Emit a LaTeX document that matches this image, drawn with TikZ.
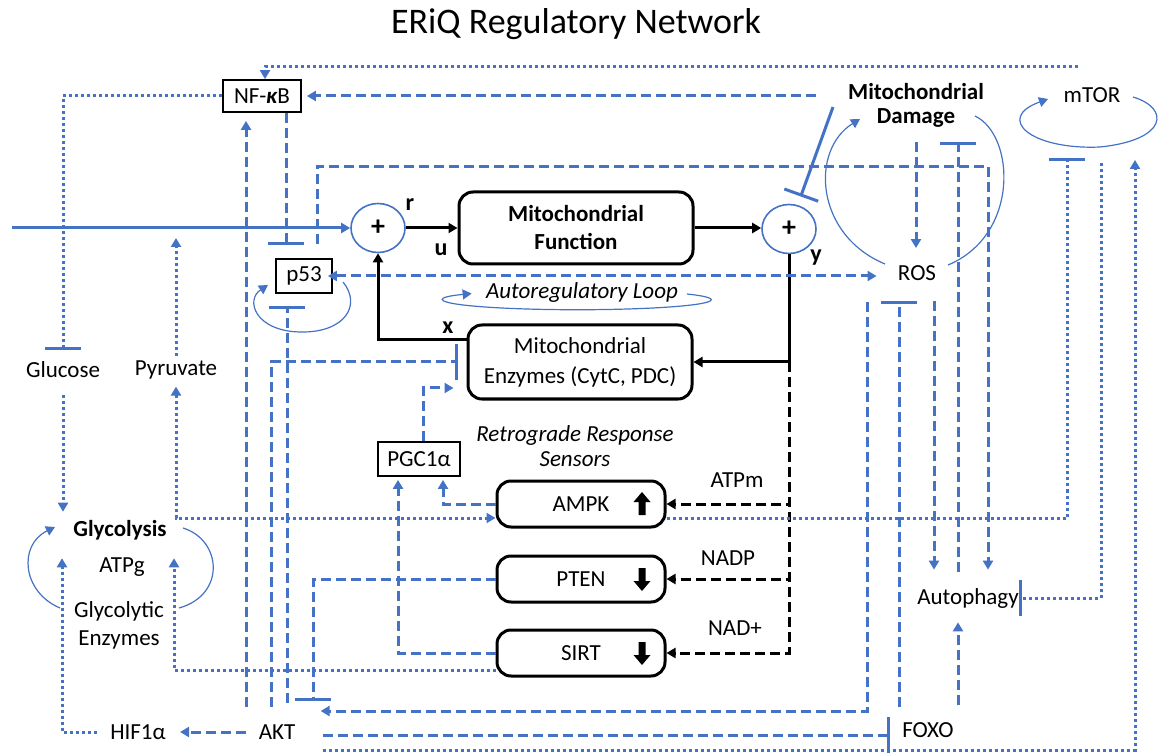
\documentclass[tikz,border=0pt]{standalone}
\usepackage{fontspec}
\setmainfont{Carlito}
\usetikzlibrary{positioning,arrows.meta,shapes.geometric}
\definecolor{netblue}{RGB}{68,114,196}

% thick block arrows inside the sensor boxes
\newcommand{\bigup}[1]{\fill (#1) ++(0,-12) -- ++(8.5,10) -- ++(-5,0) -- ++(0,13) -- ++(-7,0) -- ++(0,-13) -- ++(-5,0) -- cycle;}
\newcommand{\bigdown}[1]{\fill (#1) ++(0,12) -- ++(8.5,-10) -- ++(-5,0) -- ++(0,-13) -- ++(-7,0) -- ++(0,13) -- ++(-5,0) -- cycle;}

\begin{document}
\begin{tikzpicture}[x=0.5pt, y=-0.5pt,
    >={Triangle[length=4.5pt,width=5pt]},
    every node/.style={font=\fontsize{11.5}{13}\selectfont, inner sep=2pt},
    smallbox/.style={draw, line width=0.9pt, inner sep=3pt},
    block/.style={draw, line width=1.5pt, rounded corners=7pt, align=center},
    sensor/.style={block, minimum width=84pt, minimum height=23pt},
    sumnode/.style={draw=netblue, ellipse, line width=0.8pt, minimum width=27pt, minimum height=24.5pt, inner sep=0pt, font=\bfseries\fontsize{14}{14}\selectfont},
    lbl/.style={font=\bfseries\fontsize{12}{12}\selectfont},
    blk/.style={black, line width=1.5pt},
    blkdash/.style={blk, dash pattern=on 5pt off 2.5pt},
    bl/.style={netblue, line width=1.5pt},
    dsh/.style={bl, dash pattern=on 5pt off 2.5pt},
    dts/.style={bl, dash pattern=on 1.5pt off 1.5pt},
    loopline/.style={netblue, line width=0.6pt},
    inh/.style={-{Bar[width=18pt]}},
]
\useasboundingbox (0,0) rectangle (1161,753);

    % Title
    \node[font=\fontsize{18}{18}\selectfont] (title) at (576,24) {ERiQ Regulatory Network};

    % Upper regulators
    \node[smallbox, minimum width=39pt, minimum height=16pt] (nfkb) at (262,96) {NF-{\bfseries\itshape κ}B};
    \node[font=\bfseries\fontsize{11.5}{12}\selectfont, align=center] (damage) at (916,105) {Mitochondrial\\Damage};
    \node (mtor) at (1092,95) {mTOR};

    % Control loop
    \node[sumnode] (sum1) at (378,228) {+};
    \node[block, minimum width=117pt, minimum height=36pt, font=\bfseries\fontsize{11.5}{14}\selectfont] (mitofun) at (576,228) {Mitochondrial\\Function};
    \node[sumnode] (sum2) at (789,229) {+};
    \node[block, minimum width=112pt, minimum height=37pt, font=\fontsize{11.5}{15}\selectfont] (mitoenz) at (580,362) {Mitochondrial\\Enzymes (CytC, PDC)};
    \node[lbl] (rlbl) at (410,205) {r};
    \node[lbl] (ulbl) at (441,250) {u};
    \node[lbl] (ylbl) at (816,258) {y};
    \node[lbl] (xlbl) at (448,328) {x};
    \node[font=\itshape\fontsize{11.5}{13}\selectfont] (autoreg) at (582,292) {Autoregulatory Loop};

    \node[smallbox, minimum width=28pt, minimum height=17pt] (p53) at (304,276) {p53};
    \node (ros) at (917,273) {ROS};

    % Retrograde sensors
    \node[font=\itshape\fontsize{11.5}{12.5}\selectfont, align=center] (retro) at (575,446) {Retrograde Response\\Sensors};
    \node[smallbox, minimum width=41pt, minimum height=17pt] (pgc) at (419,459) {PGC1α};
    \node[sensor] (ampk) at (581,504) {AMPK};
    \node[sensor, below=13pt of ampk] (pten) {PTEN};
    \node[sensor, below=12.5pt of pten] (sirt) {SIRT};
    \node (atpm) at (737,480) {ATPm};
    \node (nadp) at (728,558) {NADP};
    \node (nadplus) at (735,628) {NAD+};

    % Glycolysis side
    \node (glucose) at (63,370) {Glucose};
    \node (pyruvate) at (176,370) {Pyruvate};
    \node[font=\bfseries\fontsize{11.5}{13}\selectfont] (glycolysis) at (120,530) {Glycolysis};
    \node (atpg) at (122,567) {ATPg};
    \node[align=center, font=\fontsize{11.5}{14}\selectfont] (glyenz) at (119,625) {Glycolytic\\Enzymes};
    \node (hif) at (138,732) {HIF1α};
    \node (akt) at (277,732) {AKT};
    \node (foxo) at (928,730) {FOXO};
    \node (autophagy) at (968,598) {Autophagy};

    % Arrows in the sensor boxes
    \bigup{[xshift=30.5pt]ampk.center}
    \bigdown{[xshift=30.5pt]pten.center}
    \bigdown{[xshift=30.5pt]sirt.center}

    % Black control connections
    \draw[blk, ->] (sum1) -- (mitofun);
    \draw[blk, ->] (mitofun.east) -- (mitofun.east -| sum2.west);
    \draw[blk, ->] (sum2.south) |- (mitoenz.east);
    \coordinate (ytap) at (sum2.south |- mitoenz.east);
    \draw[blkdash, ->] (ytap) |- (ampk.east);
    \draw[blkdash, ->] (ytap) |- (pten.east);
    \draw[blkdash, ->] (ytap) |- (sirt.east);
    \draw[blk, ->] ([yshift=11pt]mitoenz.west) -| (sum1.south);

    % Input line
    \coordinate (inp) at (12,228);
    \draw[bl, ->] (inp) -- (sum1);
    \draw[dts, ->, shorten >=5pt] (pyruvate.north) -- (pyruvate.north |- inp);

    % NF-kB links
    \coordinate (toplink) at (1078,67);
    \draw[dts, ->] (toplink) -| ([xshift=1.5pt]nfkb.north);
    \draw[dsh, ->, shorten <=14pt, shorten >=2.5pt] (damage.west |- nfkb.east) -- (nfkb.east);
    \draw[dts, inh, shorten >=4pt] (nfkb.west) -| (glucose.north);
    \draw[dsh, inh, shorten >=6.5pt] ([xshift=12pt]nfkb.south) -- ([xshift=-9pt]p53.north);

    % p53 links
    \draw[dsh, ->, shorten <=7pt, shorten >=7pt] ([xshift=6.5pt]p53.north) -- ++(0,-92) -| ([xshift=10pt]autophagy.north);
    \draw[dsh, <->, shorten <=-2.5pt, shorten >=8.5pt] (p53.east) -- (p53.east -| ros.west);

    % Damage and ROS
    \coordinate (dmgtail) at (833,107);
    \draw[bl, inh, shorten >=4.5pt] (dmgtail) -- (sum2);
    \draw[dsh, ->, shorten <=5.5pt, shorten >=6.5pt] (damage.south) -- (damage.south |- ros.north);
    \draw[dsh, inh, shorten <=6pt, shorten >=5.5pt] ([xshift=-5pt]autophagy.north) -- ([xshift=-5pt]autophagy.north |- damage.south);
    \draw[dsh, ->, shorten <=8pt, shorten >=7pt] ([xshift=8.5pt]ros.south) -- ([xshift=8.5pt]ros.south |- autophagy.north);
    \draw[dsh, ->, shorten <=8.5pt, shorten >=10.5pt] ([xshift=-25pt]ros.south) |- ([yshift=10.5pt]akt.east);

    % FOXO links
    \draw[dsh, inh, shorten <=5.5pt, shorten >=8pt] ([xshift=-14.5pt]foxo.north) -- ([xshift=-14.5pt]foxo.north |- ros.south);
    \draw[dsh, ->, shorten <=6.5pt, shorten >=5pt] ([xshift=15pt]foxo.north) -- ([xshift=15pt]foxo.north |- autophagy.south);

    % AKT links
    \draw[dsh, ->, shorten <=6.5pt, shorten >=4pt] ([xshift=-15.5pt]akt.north) -- ([xshift=-15.5pt]akt.north |- nfkb.south);
    \draw[dsh, inh, shorten <=6.5pt, shorten >=4.5pt] ([xshift=-3pt]akt.north) |- (mitoenz.west);
    \draw[dsh, inh, shorten <=8.5pt, shorten >=6pt] ([xshift=5pt]akt.north) -- ([xshift=5pt]akt.north |- p53.south);
    \draw[dsh, ->, shorten <=4pt, shorten >=5pt] (akt.west) -- (akt.west -| hif.east);
    \draw[dsh, inh, shorten <=11.5pt, shorten >=4pt] ([yshift=-1.5pt]akt.east) -- ([yshift=-1.5pt]akt.east -| foxo.west);
    \draw[dts, ->, shorten <=11.5pt, shorten >=26.5pt] ([yshift=-9pt]akt.east) -| ([xshift=21.5pt]mtor.south);
    \draw[dts, ->, shorten <=4.5pt, shorten >=7pt] (hif.west) -| ([xshift=-29pt]glycolysis.south);

    % Glycolysis links
    \draw[dts, ->, shorten <=6.5pt, shorten >=2pt] (glucose.south) -- (glucose.south |- glycolysis.north);
    \draw[dts, <->, shorten <=1.5pt] (pyruvate.south) |- ([yshift=-7pt]ampk.west);

    % mTOR links
    \draw[dts, inh, shorten >=25.5pt] ([yshift=-7pt]ampk.east) -| ([xshift=-12.5pt]mtor.south);
    \draw[dts, inh, shorten <=28pt, shorten >=-2pt] ([xshift=4.5pt]mtor.south) |- (autophagy.east);

    % Sensor outputs
    \draw[dts, ->, shorten >=7pt] ([yshift=-8.5pt]sirt.west) -| ([xshift=27pt]glycolysis.south);
    \draw[dsh, ->, shorten >=1.5pt] (sirt.west) -| ([xshift=-10.5pt]pgc.south);
    \draw[dsh, ->, shorten >=1.5pt] (ampk.west) -| ([xshift=12pt]pgc.south);
    \draw[dsh, ->, shorten >=6.5pt] ([xshift=2pt]pgc.north) |- ([yshift=-13pt]mitoenz.west);
    \draw[dsh, inh, shorten >=9.5pt] (pten.west) -| ([xshift=18pt]akt.north);

    % Feedback loops
    \draw[loopline, ->] (60,608) .. controls (22,592) and (18,545) .. (55,527);
    \draw[loopline] (183,528) .. controls (222,540) and (226,595) .. (179,608);
    \draw[loopline, ->] (343,282) .. controls (362,305) and (345,333) .. (300,332) .. controls (255,331) and (245,300) .. (268,285);
    \draw[loopline, ->] (687,294) arc[start angle=35, end angle=-218, x radius=67pt, y radius=5pt];
    \draw[loopline, ->] (885,264) .. controls (815,235) and (810,150) .. (860,119);
    \draw[loopline] (975,116) .. controls (1015,135) and (1020,235) .. (948,265);
    \draw[loopline, ->] (1133,97) .. controls (1170,108) and (1168,140) .. (1100,147) .. controls (1030,150) and (995,118) .. (1048,99);

\end{tikzpicture}
\end{document}
